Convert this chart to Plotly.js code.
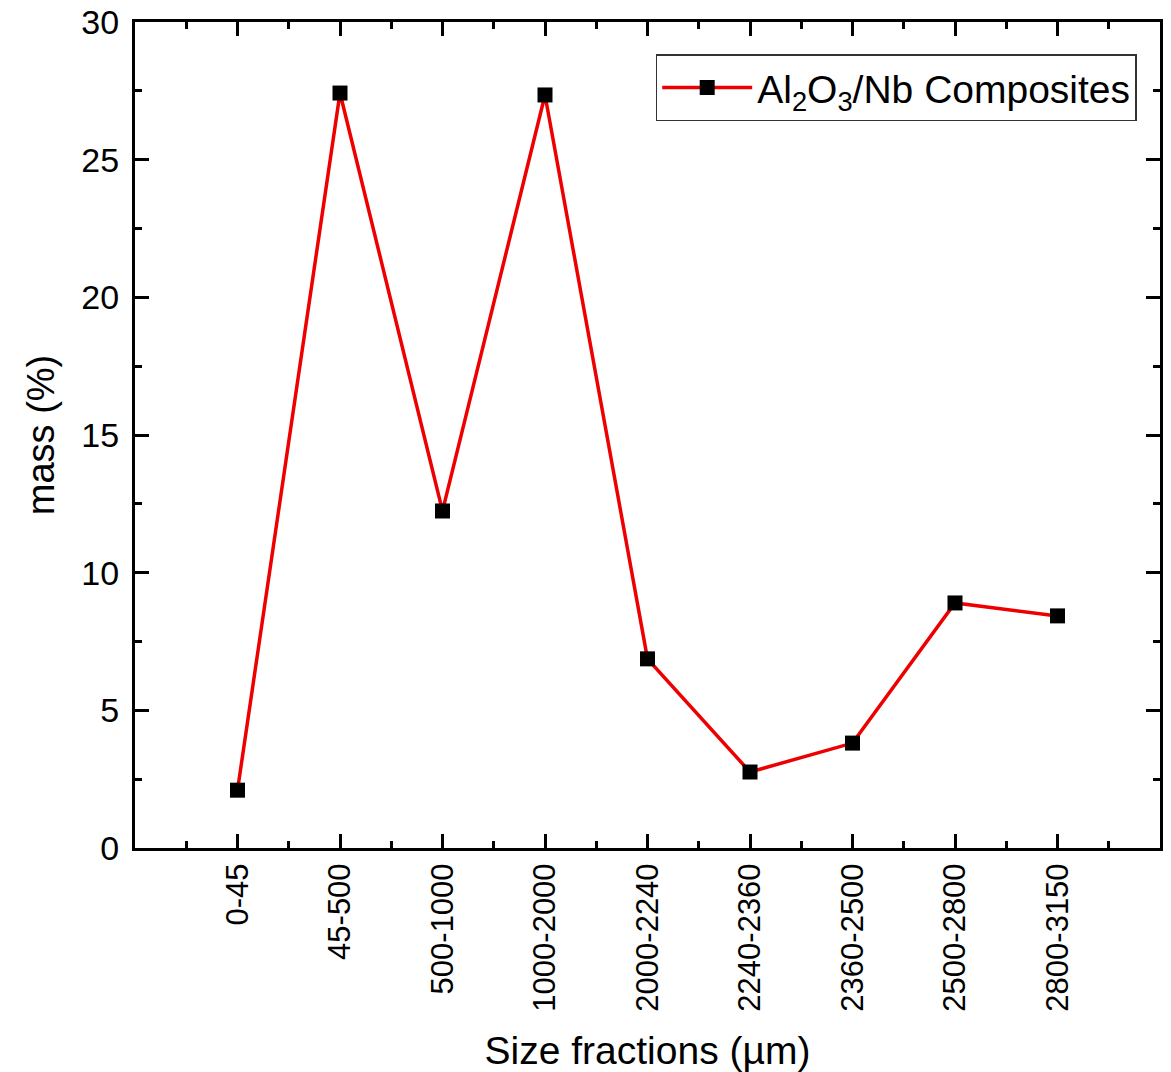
<!DOCTYPE html>
<html>
<head>
<meta charset="utf-8">
<script src="https://cdn.plot.ly/plotly-3.0.1.min.js"></script>
<style>html,body{margin:0;padding:0;background:#fff;}#chart{width:1171px;height:1072px;}</style>
</head>
<body>
<div id="chart"></div>
<script>
const categories = ["0-45","45-500","500-1000","1000-2000","2000-2240","2240-2360","2360-2500","2500-2800","2800-3150"];
const massPercent = [2.1, 27.42, 12.24, 27.35, 6.87, 2.76, 3.81, 8.9, 8.43];
const seriesName = "Al<sub>2</sub>O<sub>3</sub>/Nb Composites";

const idx = categories.map((_, i) => i);

const trace = {
  x: idx,
  y: massPercent,
  type: 'scatter',
  mode: 'lines+markers',
  name: seriesName,
  line: {color: '#ee0000', width: 3.5},
  marker: {symbol: 'square', size: 15, color: '#000000'},
  showlegend: true
};

const fontFam = 'Arial, "Liberation Sans", sans-serif';

const layout = {
  width: 1171,
  height: 1072,
  margin: {l: 135, r: 11, t: 22, b: 224},
  paper_bgcolor: '#fff',
  plot_bgcolor: '#fff',
  font: {family: fontFam, color: '#000', size: 32},
  showlegend: true,
  legend: {
    x: 0.508, y: 0.961, xanchor: 'left', yanchor: 'top',
    bordercolor: '#333', borderwidth: 1.5, bgcolor: '#fff',
    font: {size: 39, family: fontFam, color: '#000'},
    itemwidth: 90
  },
  xaxis: {
    range: [-1, 9],
    tickmode: 'array',
    tickvals: idx,
    ticktext: categories,
    tickangle: -90,
    ticks: 'inside', ticklen: 14, tickwidth: 3, tickcolor: '#000',
    minor: {tickmode: 'linear', tick0: -0.5, dtick: 1, ticks: 'inside', ticklen: 7, tickwidth: 3, tickcolor: '#000', showgrid: false},
    showline: true, linewidth: 3, linecolor: '#000', mirror: 'allticks',
    showgrid: false, zeroline: false,
    tickfont: {size: 31, family: fontFam},
    title: {text: 'Size fractions (µm)', font: {size: 39, family: fontFam}, standoff: 28}
  },
  yaxis: {
    range: [0, 30],
    tickmode: 'linear', tick0: 0, dtick: 5,
    ticks: 'inside', ticklen: 14, tickwidth: 3, tickcolor: '#000',
    minor: {tickmode: 'linear', tick0: 0, dtick: 2.5, ticks: 'inside', ticklen: 7, tickwidth: 3, tickcolor: '#000', showgrid: false},
    showline: true, linewidth: 3, linecolor: '#000', mirror: 'allticks',
    showgrid: false, zeroline: false,
    tickfont: {size: 34, family: fontFam},
    ticklabelstandoff: 6,
    title: {text: 'mass (%)', font: {size: 38, family: fontFam}, standoff: 16}
  }
};

Plotly.newPlot('chart', [trace], layout, {displayModeBar: false, staticPlot: true});
</script>
</body>
</html>
